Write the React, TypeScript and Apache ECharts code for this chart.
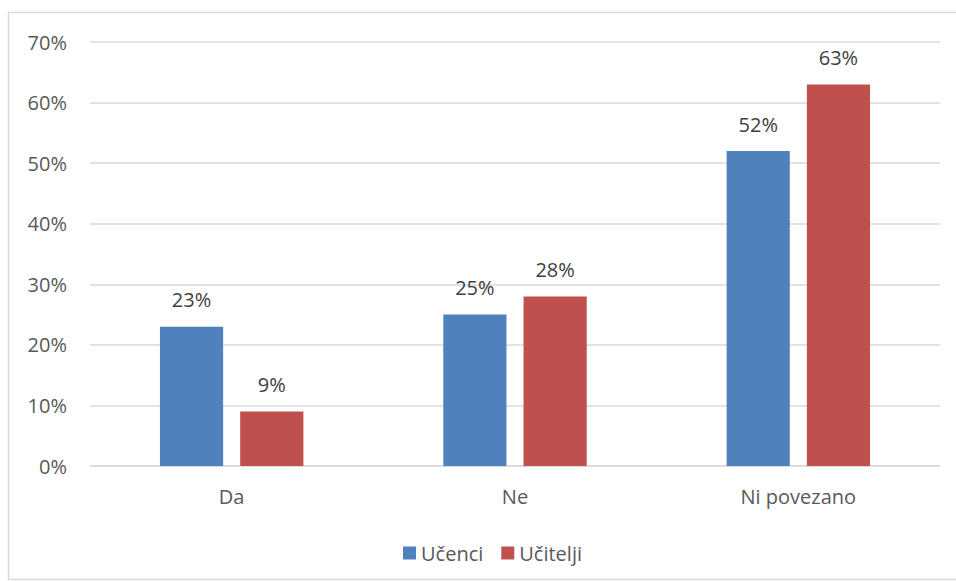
import React, { useEffect, useRef } from "react";
import * as echarts from "echarts";

const categories = ["Da", "Ne", "Ni povezano"];
const ucenci = [23, 25, 52];
const ucitelji = [9, 28, 63];
const seriesNames = ["Učenci", "Učitelji"];

export default function App() {
  const ref = useRef<HTMLDivElement>(null);
  useEffect(() => {
    const chart = echarts.init(ref.current!, undefined, { renderer: "svg" });
    const font = "'Open Sans', sans-serif";
    const label = {
      show: true,
      position: "top",
      distance: 17,
      formatter: "{c}%",
      color: "#404040",
      fontSize: 20,
      fontFamily: font,
    };
    chart.setOption({
      animation: false,
      backgroundColor: "#fff",
      textStyle: { fontFamily: font },
      graphic: [
        {
          type: "rect",
          shape: { x: 8.5, y: 12.5, width: 1000, height: 567 },
          style: { fill: "none", stroke: "#D9D9D9", lineWidth: 1.5 },
          silent: true,
        },
      ],
      grid: { left: 90, right: 16, top: 42, bottom: 115, containLabel: false },
      legend: {
        top: 538,
        left: 398,
        itemWidth: 13,
        itemHeight: 13,
        itemGap: 18,
        icon: "rect",
        textStyle: { color: "#595959", fontSize: 20, fontFamily: font },
        data: seriesNames,
      },
      xAxis: {
        type: "category",
        data: categories,
        axisLine: { lineStyle: { color: "#D9D9D9", width: 1.5 } },
        axisTick: { show: false },
        axisLabel: { color: "#595959", fontSize: 20, margin: 20, fontFamily: font },
      },
      yAxis: {
        type: "value",
        min: 0,
        max: 70,
        interval: 10,
        axisLine: { show: false },
        axisTick: { show: false },
        splitLine: { lineStyle: { color: "#D9D9D9", width: 1.5 } },
        axisLabel: { color: "#595959", fontSize: 20, margin: 23, formatter: "{value}%", fontFamily: font },
      },
      series: [
        {
          name: seriesNames[0],
          type: "bar",
          data: ucenci,
          barWidth: "22.3%",
          barGap: "27%",
          itemStyle: { color: "#4F81BD" },
          label,
        },
        {
          name: seriesNames[1],
          type: "bar",
          data: ucitelji,
          barWidth: "22.3%",
          itemStyle: { color: "#C0504D" },
          label,
        },
      ],
    });
    return () => chart.dispose();
  }, []);
  return (
    <div
      ref={ref}
      style={{ position: "fixed", left: 0, top: 0, width: 956, height: 581 }}
    />
  );
}
